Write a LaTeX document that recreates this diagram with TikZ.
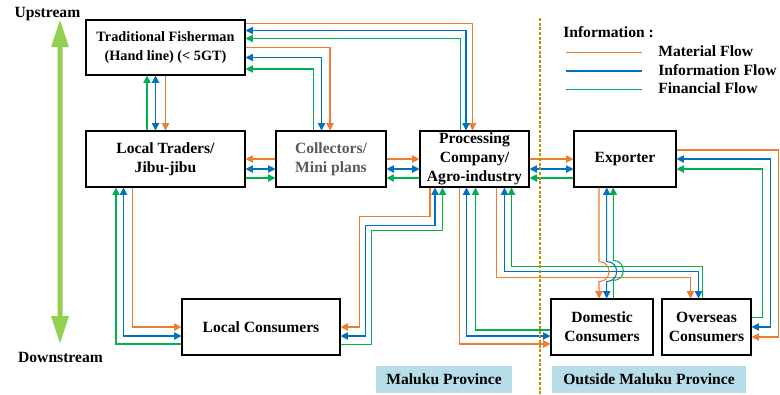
\documentclass[tikz,border=0pt]{standalone}
\usepackage{fontspec}
\setmainfont{Liberation Serif}
\usepackage{tikz}
\usetikzlibrary{arrows.meta,calc}

\definecolor{matflow}{RGB}{237,125,49}
\definecolor{infflow}{RGB}{0,112,192}
\definecolor{finflow}{RGB}{0,176,80}
\definecolor{streamgreen}{RGB}{146,208,80}
\definecolor{provline}{RGB}{191,144,0}
\definecolor{provfill}{RGB}{183,222,232}
\definecolor{collgray}{RGB}{89,89,89}

\tikzset{
  actor/.style={draw, line width=0.8pt, inner sep=1pt, align=center, font=\bfseries\fontsize{11.7}{14.2}\selectfont},
  lbl/.style={inner sep=0pt, align=center, font=\bfseries\fontsize{11.7}{14.2}\selectfont},
  mat/.style={matflow, line width=0.8pt},
  inf/.style={infflow, line width=0.8pt},
  fin/.style={finflow, line width=0.8pt},
  arr/.style={-{Triangle[length=5.5pt,width=5.5pt]}},
  darr/.style={{Triangle[length=5.5pt,width=5.5pt]}-{Triangle[length=5.5pt,width=5.5pt]}},
  jump/.style={out=0,in=0,looseness=1.7},
}

\begin{document}
\begin{tikzpicture}[x=0.75pt,y=0.75pt,yscale=-1]
\useasboundingbox (0,0) rectangle (780,394);

% Actors
\node[actor, minimum width=119.25pt, minimum height=41.25pt, font=\bfseries\fontsize{10.7}{13.9}\selectfont] (fisher) at (165.5,47.5) {Traditional Fisherman\\(Hand line) (< 5GT)};
\node[actor, minimum width=119.25pt, minimum height=42pt] (trader) at (165.5,159) {Local Traders/\\Jibu-jibu};
\node[actor, minimum width=82.5pt, minimum height=42pt, text=collgray] (collect) at (331,159) {Collectors/\\Mini plans};
\node[actor, minimum width=81.75pt, minimum height=42pt, inner sep=0.5pt] (proc) at (474.5,159) {Processing\\Company/\\Agro-industry};
\node[actor, minimum width=76.5pt, minimum height=42pt] (export) at (625,159) {Exporter};
\node[actor, minimum width=118.5pt, minimum height=42pt] (lcons) at (261,327) {Local Consumers};
\node[actor, minimum width=76.5pt, minimum height=42pt] (dcons) at (602,327) {Domestic\\Consumers};
\node[actor, minimum width=66.75pt, minimum height=42pt] (ocons) at (706.5,327) {Overseas\\Consumers};

% Fisherman - Local Traders
\draw[fin,arr] ($(trader.north)+(-18.5,0)$) -- ($(fisher.south)+(-18.5,0)$);
\draw[inf,darr] ($(fisher.south)+(-10,0)$) -- ($(trader.north)+(-10,0)$);
\draw[mat,arr] (fisher.south) -- (trader.north);
% Fisherman - Processing
\draw[mat,arr] ($(fisher.east)+(0,-24)$) -| ($(proc.north)+(-2,0)$);
\draw[inf,darr] ($(fisher.east)+(0,-17)$) -| ($(proc.north)+(-8.5,0)$);
\draw[fin,arr] ($(proc.north)+(-14,0)$) |- ($(fisher.east)+(0,-9)$);
% Fisherman - Collectors
\draw[mat,arr] (fisher.east) -| ($(collect.north)+(-1,0)$);
\draw[inf,darr] ($(fisher.east)+(0,10)$) -| ($(collect.north)+(-9.5,0)$);
\draw[fin,arr] ($(collect.north)+(-17.5,0)$) |- ($(fisher.east)+(0,21.5)$);

% Local Traders - Collectors
\draw[mat,arr] (collect.west) -- (trader.east);
\draw[inf,darr] ($(trader.east)+(0,10)$) -- ($(collect.west)+(0,10)$);
\draw[fin,arr] ($(trader.east)+(0,19)$) -- ($(collect.west)+(0,19)$);
% Collectors - Processing
\draw[mat,arr] (collect.east) -- (proc.west);
\draw[inf,darr] ($(collect.east)+(0,10)$) -- ($(proc.west)+(0,10)$);
\draw[fin,arr] ($(proc.west)+(0,19)$) -- ($(collect.east)+(0,19)$);
% Processing - Exporter
\draw[mat,arr] (proc.east) -- (export.west);
\draw[inf,darr] ($(proc.east)+(0,10)$) -- ($(export.west)+(0,10)$);
\draw[fin,arr] ($(export.west)+(0,19)$) -- ($(proc.east)+(0,19)$);

% Local Traders - Local Consumers
\draw[mat,arr] ($(trader.south)+(-33,0)$) |- (lcons.west);
\draw[inf,darr] ($(trader.south)+(-42,0)$) |- ($(lcons.west)+(0,9)$);
\draw[fin,arr] ($(lcons.west)+(0,17)$) -| ($(trader.south)+(-49.5,0)$);
% Processing - Local Consumers
\draw[mat,arr] ($(proc.south)+(-44.5,0)$) -- ++(0,29) -| ($(lcons.east)+(19,0)$) -- (lcons.east);
\draw[inf,darr] ($(proc.south)+(-39.5,0)$) -- ++(0,37.5) -| ($(lcons.east)+(25,9)$) -- ($(lcons.east)+(0,9)$);
\draw[fin,arr] ($(lcons.east)+(0,17.5)$) -- ++(30.5,0) |- ($(proc.south)+(-32,43)$) -- ($(proc.south)+(-32,0)$);
% Processing - Domestic Consumers
\draw[mat,arr] ($(proc.south)+(-15,0)$) |- ($(dcons.west)+(0,17)$);
\draw[inf,darr] ($(proc.south)+(-8,0)$) |- ($(dcons.west)+(0,9)$);
\draw[fin,arr] ($(dcons.west)+(0,3)$) -| ($(proc.south)+(1,0)$);
% Processing - Overseas Consumers
\draw[mat,arr] ($(proc.south)+(22,0)$) -- ++(0,90) -| ($(ocons.north)+(-16,0)$);
\draw[inf,darr] ($(proc.south)+(30,0)$) -- ++(0,84) -| ($(ocons.north)+(-8,0)$);
\draw[fin,arr] ($(ocons.north)+(-4,0)$) |- ($(proc.south)+(37,79)$) -- ($(proc.south)+(37,0)$);

% Exporter - Domestic Consumers (jumping the lines above)
\draw[mat,arr] ($(export.south)+(-26,0)$) -- ++(0,74) to[jump] ++(0,20) -- ($(dcons.north)+(-3,0)$);
\draw[inf,darr] ($(export.south)+(-18.3,0)$) -- ++(0,74) to[jump] ++(0,20) -- ($(dcons.north)+(4.7,0)$);
\draw[fin,arr] ($(dcons.north)+(11.3,0)$) -- ++(0,-18) to[jump] ++(0,-20) -- ($(export.south)+(-11.7,0)$);
% Exporter - Overseas Consumers
\draw[mat,arr] ($(export.east)+(0,-9)$) -- ++(102,0) |- ($(ocons.east)+(0,10)$);
\draw[inf,darr] (export.east) -- ++(94,0) |- (ocons.east);
\draw[fin,arr] ($(ocons.east)+(0,-9.5)$) -- ++(11,0) |- ($(export.east)+(0,10)$);

% Upstream / Downstream
\node[lbl] (upst) at (47.5,14) {Upstream};
\node[lbl] (downst) at (60.5,357) {Downstream};
\fill[streamgreen] (60,20) -- (69,47) -- (62.5,47) -- (62.5,316) -- (69,316) -- (60,343) -- (51,316) -- (57.5,316) -- (57.5,47) -- (51,47) -- cycle;

% Province border
\draw[provline, line width=2.2pt, dash pattern=on 2.2pt off 1.3pt] (540,18) -- (540,394);
\node[lbl, fill=provfill, minimum width=102pt, minimum height=20.25pt] (maluku) at (444,379.5) {Maluku Province};
\node[lbl, fill=provfill, minimum width=145.5pt, minimum height=20.25pt] (outside) at (649,379.5) {Outside Maluku Province};

% Legend
\node[lbl, anchor=west] (legend) at (563,32) {Information :};
\draw[mat, line width=1.1pt] (566,52.5) -- (642,52.5);
\node[lbl, anchor=west] (legmat) at (658,51.5) {Material Flow};
\draw[inf, line width=1.1pt] (566,71) -- (642,71);
\node[lbl, anchor=west] (leginf) at (658,70) {Information Flow};
\draw[fin, line width=1.1pt] (566,89.5) -- (642,89.5);
\node[lbl, anchor=west] (legfin) at (658,88.5) {Financial Flow};

\end{tikzpicture}
\end{document}
